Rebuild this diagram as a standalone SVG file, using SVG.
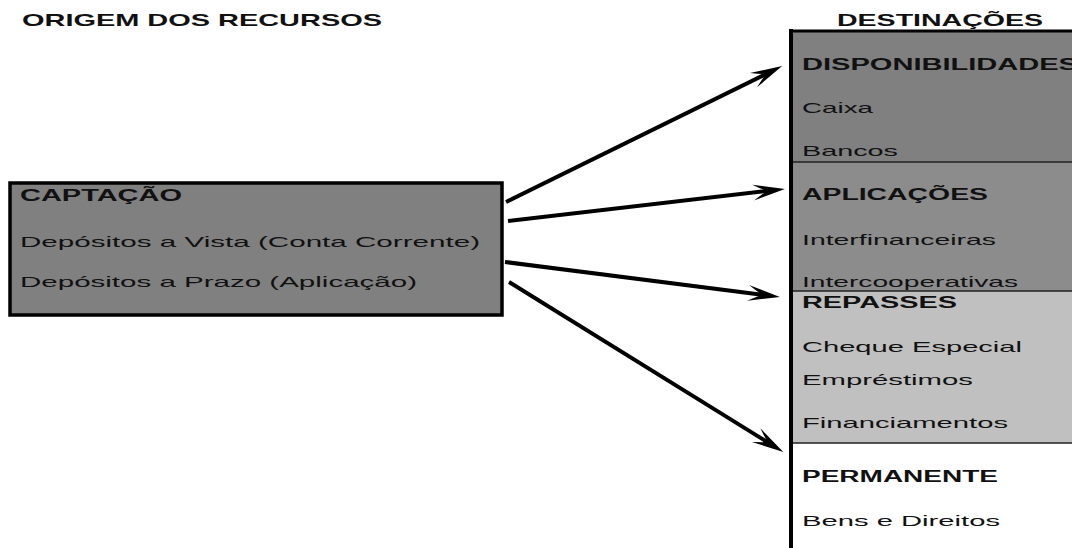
<svg xmlns="http://www.w3.org/2000/svg" width="1072" height="548" viewBox="0 0 1072 548">
  <defs>
    <style>
      text { font-family: "Liberation Sans", Arial, sans-serif; fill: #111; }
      .title { font-size: 17px; font-weight: bold; }
      .head { font-size: 16px; font-weight: bold; }
      .item { font-size: 15px; }
      .box { stroke: #000; stroke-width: 3.5; }
      .sep { stroke: #222; stroke-width: 1.5; }
      .conn { stroke: #000; stroke-width: 4; fill: none; marker-end: url(#arrow); }
    </style>
    <!-- swept-back arrowhead; refX sits on the notch so the shaft ends inside the head -->
    <marker id="arrow" markerUnits="userSpaceOnUse" markerWidth="34" markerHeight="20" viewBox="0 0 34 20" refX="14" refY="10" orient="auto" overflow="visible">
      <path d="M32,10 L0,2 Q8,7 14,10 Q8,13 0,18 Z" fill="#000"/>
    </marker>
  </defs>

  <rect width="1072" height="548" fill="#fff"/>

  <!-- column titles -->
  <text class="title" x="22" y="26" textLength="360" lengthAdjust="spacingAndGlyphs">ORIGEM DOS RECURSOS</text>
  <text class="title" x="837" y="26" textLength="206" lengthAdjust="spacingAndGlyphs">DESTINAÇÕES</text>

  <!-- source node -->
  <g id="captacao">
    <rect class="box" x="10" y="183" width="492" height="132" fill="#808080"/>
    <text class="head" x="20" y="201" textLength="162" lengthAdjust="spacingAndGlyphs">CAPTAÇÃO</text>
    <text class="item" x="20" y="247" textLength="460" lengthAdjust="spacingAndGlyphs">Depósitos a Vista (Conta Corrente)</text>
    <text class="item" x="20" y="287" textLength="397" lengthAdjust="spacingAndGlyphs">Depósitos a Prazo (Aplicação)</text>
  </g>

  <!-- destination column -->
  <g id="disponibilidades">
    <rect x="791" y="30" width="290" height="132" fill="#808080"/>
    <text class="head" x="802" y="70" textLength="276" lengthAdjust="spacingAndGlyphs">DISPONIBILIDADES</text>
    <text class="item" x="802" y="113" textLength="71" lengthAdjust="spacingAndGlyphs">Caixa</text>
    <text class="item" x="802" y="156" textLength="96" lengthAdjust="spacingAndGlyphs">Bancos</text>
  </g>
  <g id="aplicacoes">
    <rect x="791" y="162" width="290" height="129" fill="#8c8c8c"/>
    <text class="head" x="802" y="200" textLength="186" lengthAdjust="spacingAndGlyphs">APLICAÇÕES</text>
    <text class="item" x="802" y="245" textLength="194" lengthAdjust="spacingAndGlyphs">Interfinanceiras</text>
    <text class="item" x="802" y="287" textLength="216" lengthAdjust="spacingAndGlyphs">Intercooperativas</text>
  </g>
  <g id="repasses">
    <rect x="791" y="291" width="290" height="152" fill="#c0c0c0"/>
    <text class="head" x="802" y="308" textLength="155" lengthAdjust="spacingAndGlyphs">REPASSES</text>
    <text class="item" x="802" y="352" textLength="220" lengthAdjust="spacingAndGlyphs">Cheque Especial</text>
    <text class="item" x="802" y="385" textLength="171" lengthAdjust="spacingAndGlyphs">Empréstimos</text>
    <text class="item" x="802" y="428" textLength="206" lengthAdjust="spacingAndGlyphs">Financiamentos</text>
  </g>
  <g id="permanente">
    <rect x="791" y="443" width="290" height="110" fill="#fff"/>
    <text class="head" x="802" y="482" textLength="196" lengthAdjust="spacingAndGlyphs">PERMANENTE</text>
    <text class="item" x="802" y="526" textLength="198" lengthAdjust="spacingAndGlyphs">Bens e Direitos</text>
  </g>
  <g id="column-frame">
    <line class="sep" x1="791" y1="162" x2="1072" y2="162"/>
    <line class="sep" x1="791" y1="291" x2="1072" y2="291"/>
    <line class="sep" x1="791" y1="443" x2="1072" y2="443"/>
    <line stroke="#000" stroke-width="3" x1="789" y1="31" x2="1072" y2="31"/>
    <line stroke="#000" stroke-width="4" x1="791" y1="29" x2="791" y2="548"/>
  </g>

  <!-- connectors -->
  <g id="connectors">
    <line class="conn" x1="506" y1="202" x2="766" y2="74"/>
    <line class="conn" x1="508" y1="221" x2="767" y2="191"/>
    <line class="conn" x1="505" y1="262" x2="762" y2="294.7"/>
    <line class="conn" x1="509" y1="282" x2="768" y2="442.5"/>
  </g>
</svg>
